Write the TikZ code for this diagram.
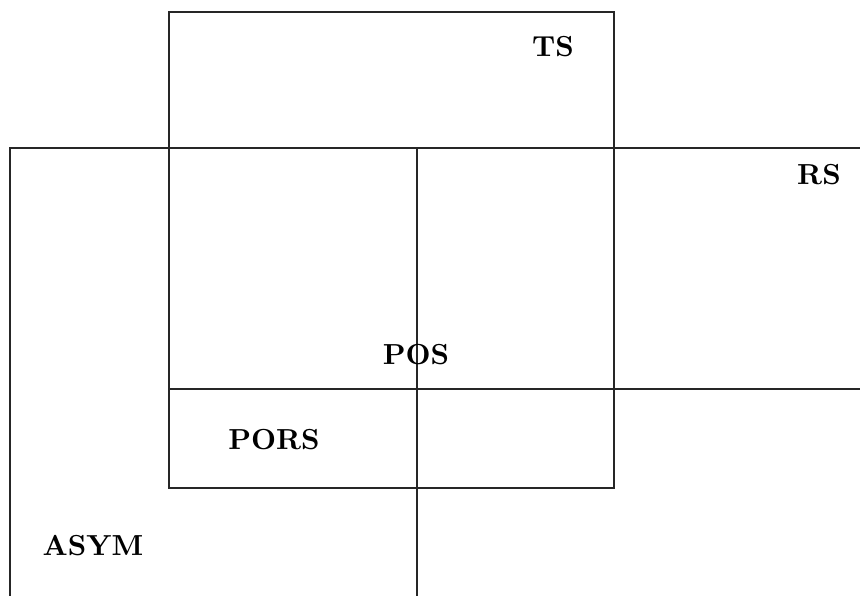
\documentclass[tikz,border=0pt]{standalone}
\begin{document}
\begin{tikzpicture}[x=0.345pt,y=-0.345pt,
  region/.style={draw=black!85,line width=0.4pt},
  lbl/.style={font=\bfseries,inner sep=0pt}]
\useasboundingbox (0,0) rectangle (860,595);
\begin{scope}
\clip (0,0) rectangle (860,595);
% TS
\draw[region] (169,12) rectangle (614,488);
% RS
\draw[region] (169,148) rectangle (880,389);
% ASYM
\draw[region] (10,620) -- (10,148) -- (880,148);
\draw[region] (417,148) -- (417,620);
\end{scope}
\node[lbl] (ts) at (553,47) {TS};
\node[lbl] (rs) at (819,175) {RS};
\node[lbl] (pos) at (416,355) {POS};
\node[lbl] (pors) at (274,440) {PORS};
\node[lbl] (asym) at (93,546) {ASYM};
\end{tikzpicture}
\end{document}
